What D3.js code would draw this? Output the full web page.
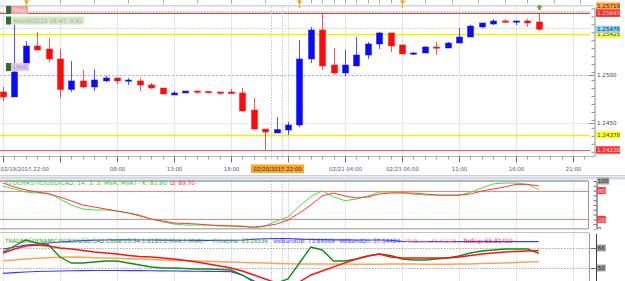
<!DOCTYPE html>
<html>
<head>
<meta charset="utf-8">
<script src="https://cdn.jsdelivr.net/npm/d3@7/dist/d3.min.js"></script>
<style>
html,body{margin:0;padding:0;background:#fff;overflow:hidden;}
svg{display:block;}
text{font-family:"DejaVu Sans",Verdana,sans-serif;}
</style>
</head>
<body>
<svg id="chart" width="625" height="281"></svg>
<script>
// ---------------- DATA ----------------
const opens  = [1.24823,1.24771,1.25125,1.25302,1.25271,1.25167,1.24849,1.24938,1.24875,1.24938,1.24969,1.24938,1.24938,1.24896,1.24865,1.24792,1.24813,1.24833,1.24828,1.24823,1.24823,1.24813,1.24635,1.24437,1.24396,1.24427,1.24479,1.25167,1.25469,1.25104,1.25021,1.25094,1.25208,1.25323,1.25438,1.25313,1.25219,1.25229,1.25292,1.25281,1.25333,1.25396,1.25500,1.25531,1.25563,1.25552,1.25563,1.25552];
const highs  = [1.24875,1.25531,1.25354,1.25448,1.25385,1.25271,1.25146,1.25052,1.25063,1.24990,1.24969,1.24969,1.24969,1.24917,1.24865,1.24833,1.24833,1.24833,1.24833,1.24823,1.24854,1.24865,1.24760,1.24437,1.24563,1.24510,1.25365,1.25500,1.25645,1.25281,1.25260,1.25396,1.25344,1.25448,1.25438,1.25313,1.25240,1.25302,1.25344,1.25344,1.25490,1.25521,1.25542,1.25583,1.25583,1.25563,1.25583,1.25645];
const lows   = [1.24729,1.24771,1.25125,1.25260,1.25135,1.24760,1.24823,1.24865,1.24833,1.24927,1.24906,1.24896,1.24833,1.24854,1.24802,1.24792,1.24813,1.24802,1.24813,1.24792,1.24802,1.24615,1.24427,1.24220,1.24396,1.24375,1.24458,1.25125,1.25052,1.25000,1.24990,1.25094,1.25167,1.25271,1.25240,1.25219,1.25208,1.25229,1.25208,1.25281,1.25333,1.25396,1.25490,1.25521,1.25542,1.25521,1.25500,1.25461];
const closes = [1.24771,1.25031,1.25302,1.25260,1.25167,1.24849,1.24938,1.24875,1.24948,1.24969,1.24938,1.24948,1.24896,1.24865,1.24802,1.24813,1.24833,1.24823,1.24818,1.24813,1.24807,1.24625,1.24437,1.24406,1.24432,1.24479,1.25167,1.25469,1.25094,1.25021,1.25104,1.25208,1.25323,1.25438,1.25302,1.25219,1.25229,1.25292,1.25281,1.25333,1.25396,1.25510,1.25542,1.25563,1.25552,1.25563,1.25542,1.25476];

const stochK = [89.6,83.3,77.1,75.0,75.0,62.5,50.0,41.7,39.6,39.6,37.5,33.3,29.2,20.8,14.6,10.4,8.3,8.3,8.3,6.3,6.3,6.3,2.1,6.3,16.7,25.0,47.9,67.3,79.8,66.7,59.0,62.5,68.8,77.0,77.1,76.4,72.3,70.8,70.8,69.5,70.0,76.4,85.4,94.0,95.8,95.8,93.0,81.80];
const stochD = [96.0,87.5,81.3,77.1,72.9,66.7,58.3,50.0,45.8,41.7,37.5,33.3,27.1,20.8,16.7,12.5,11.5,10.4,8.3,7.3,6.3,5.2,4.2,6.3,10.4,18.8,33.3,50.0,68.8,75.0,68.8,64.6,66.7,72.9,75.0,75.0,75.0,72.9,70.8,70.8,70.8,72.9,79.2,83.3,87.5,93.0,93.0,89.70];

const tdiPriceLine  = [64.4,69.8,75.2,72.5,70.7,59.9,54.5,54.5,55.4,56.3,56.3,54.5,52.7,50.9,50.0,50.0,49.5,49.1,49.1,48.6,48.2,43.7,37.4,35.6,36.5,40.1,54.5,68.9,66.2,56.3,56.3,58.1,60.8,62.6,61.2,58.1,57.2,57.2,58.1,59.0,60.8,63.5,65.3,66.2,67.1,67.1,67.1,63.26536];
const tdiTrdSig     = [63.5,67.1,69.8,70.7,69.8,68.0,67.1,65.8,64.4,63.5,62.6,61.2,60.3,59.9,59.0,58.1,56.8,55.4,53.6,51.8,50.0,47.3,43.7,40.1,36.5,35.6,37.4,43.7,47.3,51.0,54.6,58.1,60.8,62.6,59.9,59.0,59.0,59.0,59.0,59.0,59.9,61.2,62.6,63.5,64.4,64.9,65.3,65.81419];
const tdiMktBase    = [56.5,57.3,58.0,58.7,59.3,59.7,59.8,59.6,59.3,59.0,58.7,58.4,58.0,57.7,57.3,57.0,56.7,56.3,56.0,55.7,55.4,55.0,54.7,54.4,54.1,53.8,53.7,53.6,53.6,53.5,53.5,53.4,53.4,53.4,53.5,53.5,53.5,53.4,53.4,53.4,53.5,53.7,54.0,54.3,54.6,55.0,55.3,55.61925];
const tdiVolBandUp  = [67.1,68.9,70.7,71.6,72.5,73.4,74.1,74.6,75.0,75.2,75.3,75.3,75.2,75.2,75.1,75.0,75.0,74.9,74.9,75.0,75.0,75.2,75.8,76.3,76.5,76.5,76.0,75.7,75.5,75.3,75.3,75.2,75.2,75.2,75.0,74.0,73.7,73.7,73.7,73.7,73.7,73.7,73.7,73.7,73.7,73.7,73.7,73.69309];
const tdiVolBandDn  = [45.2,45.8,46.4,46.8,47.1,47.3,47.5,47.6,47.7,47.7,47.7,47.6,47.6,47.5,47.4,47.3,47.2,47.1,47.0,46.9,46.7,43.5,38.5,34.0,30.5,28.5,27.5,27.5,28.0,29.0,30.0,31.0,32.0,32.8,33.5,34.1,34.6,35.0,35.4,35.8,36.1,36.4,36.7,36.9,37.1,37.3,37.4,37.54484];

const majorTickIdx = [0,5,10,15,20,25,30,35,40,45,50];
const timeLabels   = ["02/19/2015 22:00","","08:00","13:00","18:00","","02/21 04:00","02/23 06:00","11:00","16:00","21:00"];
const cursorIdx = 24;
const cursorLabel = "02/20/2015 22:00";
const topTickIdx = [2,5,8,11,14,17,20,23,26,27,28,29,30,31,32,33,34,35,37,39.4,41.7,44,46,48.3,50.6];
const orderMarkerIdx = [2,26,35];
const tradeArrowIdx = [47];

const priceGrid = [1.2450,1.2500];
const priceLevels = [1.25670,1.25653,1.25645,1.25490,1.25425,1.25000,1.24378,1.24220];
const priceTagValues = [1.25719,1.25645,1.25425,1.25476,1.2500,1.2450,1.24378,1.24220];
const priceTagTexts  = ["1.25719","1.25645","1.25425","1.25476","1.2500","1.2450","1.24378","1.24220"];
const orderLabels = ["Stop","Short(02/23 18:47, 0.9)","Limit"];

const stochLevels = [80,20];
const stochTagValues = [100,80,20,0];
const tdiLevels = [68,50];

const stochTitle = "STOCHASTIC(USD/CAD, 14, 3, 3, MVA, MVA) - K: ";
const tdiTitle = "TRADERSDYNAMICINDEX(USD/CAD,Close,13,34,1.6185,2,MVA,7,MVA) - ";
const tdiNames = ["PriceLine: ","VolBandUp: ","VolBandDn: ","MktBase: ","TrdSig: "];

// ---------------- DRAW ----------------
const svg = d3.select("#chart");
svg.append("rect").attr("width",625).attr("height",281).attr("fill","#ffffff");
const defs = svg.append("defs");
[["cMain",0,7,590,149],["cSto",0,181.5,588,47],["cTdi",0,233,589,48]].forEach(([id,x0,y0,w,h])=>{
  defs.append("clipPath").attr("id",id).append("rect").attr("x",x0).attr("y",y0).attr("width",w).attr("height",h);
});

const n = closes.length;
const idx = d3.range(n);
const x = d3.scaleLinear().domain([0,50]).range([3,573]);
const px = i => Math.round(x(i));
const yP = d3.scaleLinear().domain([1.2415625,1.2570833]).range([156,7]);
const yS = d3.scaleLinear().domain([0,100]).range([229,181]);
const yT = d3.scaleLinear().domain([50,68]).range([268,248]);
const hl = v => Math.round(v)+0.5;

// top strip
svg.append("rect").attr("x",0).attr("y",5).attr("width",594).attr("height",1.6).attr("fill","#d3d9e2");
svg.append("g").selectAll("line").data(topTickIdx).join("line")
  .attr("x1",d=>px(d)+0.5).attr("x2",d=>px(d)+0.5).attr("y1",0).attr("y2",3.5)
  .attr("stroke","#a9a9a9");

// ---- main panel
const gM = svg.append("g").attr("clip-path","url(#cMain)");
gM.selectAll("line.vg").data(majorTickIdx).join("line").attr("class","vg")
  .attr("x1",d=>px(d)+0.5).attr("x2",d=>px(d)+0.5).attr("y1",7).attr("y2",156)
  .attr("stroke","#e4e4e4");
gM.selectAll("line.hg").data(priceGrid).join("line").attr("class","hg")
  .attr("x1",0).attr("x2",590).attr("y1",d=>hl(yP(d))).attr("y2",d=>hl(yP(d)))
  .attr("stroke","#ebebeb");

const levelStyle = [
  {c:"#f3b4b4",d:"1.5,1.5",w:1},{c:"#f3b4b4",d:"1.5,1.5",w:1},{c:"#ff3c3c",d:null,w:1.2},
  {c:"#bcdcaa",d:"1.5,1.5",w:1},{c:"#f2f200",d:null,w:1.4},{c:"#c7aadd",d:"2,2",w:1},
  {c:"#f2f200",d:null,w:1.4},{c:"#ff5a5a",d:null,w:1.2}];
gM.selectAll("line.lv").data(priceLevels).join("line").attr("class","lv")
  .attr("x1",0).attr("x2",590).attr("y1",d=>hl(yP(d))).attr("y2",d=>hl(yP(d)))
  .attr("stroke",(d,i)=>levelStyle[i].c).attr("stroke-width",(d,i)=>levelStyle[i].w)
  .attr("stroke-dasharray",(d,i)=>levelStyle[i].d);

// cursor dotted lines
const curX = [cursorIdx-0.5,cursorIdx+0.5];
[[7,160],[181,229],[233,281]].forEach(([a,b])=>{
  svg.append("g").selectAll("line").data(curX).join("line")
    .attr("x1",d=>px(d)+0.5).attr("x2",d=>px(d)+0.5).attr("y1",a).attr("y2",b)
    .attr("stroke","#c4c4c4").attr("stroke-dasharray","1.5,1.5");
});

// candles
const cd = idx.map(i=>({i,o:opens[i],h:highs[i],l:lows[i],c:closes[i]}));
const col = d => d.c>=d.o ? "#0a0aff" : "#ff0a0a";
const cg = gM.selectAll("g.cdl").data(cd).join("g").attr("class","cdl");
cg.append("line")
  .attr("x1",d=>px(d.i)+0.5).attr("x2",d=>px(d.i)+0.5)
  .attr("y1",d=>yP(d.h)).attr("y2",d=>yP(d.l))
  .attr("stroke",col).attr("stroke-opacity",0.7);
cg.append("rect")
  .attr("x",d=>px(d.i)-2.5).attr("width",6)
  .attr("y",d=>yP(Math.max(d.o,d.c)))
  .attr("height",d=>Math.max(1.3,yP(Math.min(d.o,d.c))-yP(Math.max(d.o,d.c))))
  .attr("fill",col).attr("stroke",col).attr("stroke-opacity",0.45);

// order labels
const lblStyle = [
  {y:6,w:17,bg:"#f3a2a2",tc:"#fde6e6"},
  {y:16.5,w:73,bg:"#d7e7cb",tc:"#9db592"},
  {y:63,w:18,bg:"#ddcbe9",tc:"#a98fc2"}];
const lg = svg.append("g").selectAll("g").data(orderLabels).join("g");
lg.append("rect").attr("x",6).attr("y",(d,i)=>lblStyle[i].y).attr("width",5).attr("height",8).attr("fill","#2f6f2f");
lg.append("rect").attr("x",11).attr("y",(d,i)=>lblStyle[i].y).attr("width",(d,i)=>lblStyle[i].w).attr("height",8).attr("fill",(d,i)=>lblStyle[i].bg);
lg.append("text").attr("x",13).attr("y",(d,i)=>lblStyle[i].y+6.2).attr("font-size",5.8)
  .attr("fill",(d,i)=>lblStyle[i].tc).text(d=>d);

// top markers
svg.append("g").selectAll("path").data(orderMarkerIdx).join("path")
  .attr("d",d=>{const c=px(d)+0.5;return `M${c-2.5},0.5 L${c+2.5},0.5 L${c},5 Z M${c-0.6},5 L${c+0.6},5 L${c+0.6},8 L${c-0.6},8 Z`;})
  .attr("fill","#f2a01e");
svg.append("g").selectAll("path").data(tradeArrowIdx).join("path")
  .attr("d",d=>{const c=px(d)+0.5;return `M${c},4.5 L${c+3.2},7.5 L${c+1.3},7.5 L${c+1.3},10 L${c-1.3},10 L${c-1.3},7.5 L${c-3.2},7.5 Z`;})
  .attr("fill","#5fa83a");

// right price axis
const pa = svg.append("g").attr("transform","translate(594.5,0)")
  .call(d3.axisLeft(yP).tickValues(d3.range(1.2420,1.2571,0.00083)).tickSize(3).tickSizeOuter(0).tickFormat(""));
pa.select(".domain").attr("stroke","#8c8c8c");
pa.selectAll(".tick line").attr("stroke","#8c8c8c");

const tagStyle = [
  {bg:"#ffa64d",tc:"#3a2000"},{bg:"#ff2a2a",tc:"#ffe2e2"},{bg:"#ffff33",tc:"#3a3a00"},{bg:"#8fd3f5",tc:"#10306e"},
  {bg:null,tc:"#3c3c64"},{bg:null,tc:"#3c3c64"},{bg:"#ffff33",tc:"#3a3a00"},{bg:"#ff2a2a",tc:"#ffe2e2"}];
const tg = svg.append("g").selectAll("g").data(priceTagValues).join("g");
tg.append("rect").attr("x",596).attr("y",d=>yP(d)-3.6).attr("width",24).attr("height",7.4)
  .attr("fill",(d,i)=>tagStyle[i].bg||"none");
tg.append("line").attr("x1",589).attr("x2",594).attr("y1",d=>hl(yP(d))).attr("y2",d=>hl(yP(d)))
  .attr("stroke",(d,i)=>tagStyle[i].bg?"none":"#8c8c8c");
tg.append("text").attr("x",597).attr("y",d=>yP(d)+2.1).attr("font-size",5.6)
  .attr("fill",(d,i)=>tagStyle[i].tc).text((d,i)=>priceTagTexts[i]);

// ---- time axis
const gMinor = svg.append("g").attr("transform","translate(0.5,156.5)")
  .call(d3.axisBottom(x).tickValues(d3.range(0,52)).tickSize(3).tickSizeOuter(0).tickFormat(""));
gMinor.select(".domain").attr("stroke","#b4b4b4").attr("d","M-0.5,0H594");
gMinor.selectAll(".tick line").attr("stroke","#a0a0a0");
gMinor.selectAll(".tick").attr("transform",d=>`translate(${px(d)},0)`);
const gMajor = svg.append("g").attr("transform","translate(0.5,156.5)")
  .call(d3.axisBottom(x).tickValues(majorTickIdx).tickSize(6).tickPadding(5).tickFormat((d,i)=>timeLabels[i]));
gMajor.select(".domain").remove();
gMajor.selectAll(".tick").attr("transform",d=>`translate(${px(d)},0)`);
gMajor.selectAll(".tick line").attr("stroke","#707070");
gMajor.selectAll(".tick text").attr("font-size",5.4).attr("fill","#55558a").attr("font-family","DejaVu Sans");
gMajor.selectAll(".tick text").filter(d=>d===0).attr("text-anchor","start").attr("x",-3);
const cl = svg.append("g");
cl.append("rect").attr("x",px(cursorIdx)-26).attr("y",164.5).attr("width",53).attr("height",8.5).attr("fill","#ffa51e");
cl.append("text").attr("x",px(cursorIdx)+0.5).attr("y",171).attr("text-anchor","middle").attr("font-size",5.4)
  .attr("fill","#2e2e66").text(cursorLabel);

// separator
svg.append("line").attr("x1",0).attr("x2",625).attr("y1",175.5).attr("y2",175.5).attr("stroke","#cfcfcf");
svg.append("rect").attr("x",0).attr("y",176.5).attr("width",625).attr("height",3).attr("fill","#d3dbe7");

// ---- stochastic panel
const gS = svg.append("g").attr("clip-path","url(#cSto)");
gS.selectAll("line.vg").data(majorTickIdx).join("line").attr("class","vg")
  .attr("x1",d=>px(d)+0.5).attr("x2",d=>px(d)+0.5).attr("y1",181).attr("y2",229).attr("stroke","#e4e4e4");
gS.selectAll("line.lv").data(stochLevels).join("line").attr("class","lv")
  .attr("x1",0).attr("x2",588).attr("y1",d=>hl(yS(d))).attr("y2",d=>hl(yS(d))).attr("stroke","#ff7e7e");
const lineS = arr => d3.line().x(i=>x(i)).y(i=>yS(arr[i]))(idx);
gS.append("path").attr("d",lineS(stochK)).attr("fill","none").attr("stroke","#45dd45").attr("stroke-width",1);
gS.append("path").attr("d",lineS(stochD)).attr("fill","none").attr("stroke","#ff3535").attr("stroke-width",1);
svg.append("line").attr("x1",0).attr("x2",588.5).attr("y1",181).attr("y2",181).attr("stroke","#6a6a6a");
svg.append("line").attr("x1",0).attr("x2",588.5).attr("y1",229).attr("y2",229).attr("stroke","#6a6a6a");
svg.append("line").attr("x1",588.5).attr("x2",588.5).attr("y1",181).attr("y2",229).attr("stroke","#9a9a9a");
const sa = svg.append("g").attr("transform","translate(596.5,0)")
  .call(d3.axisLeft(yS).tickValues(d3.range(0,101,10)).tickSize(3).tickSizeOuter(0).tickFormat(""));
sa.select(".domain").attr("stroke","#404040");
sa.selectAll(".tick line").attr("stroke","#707070");
const sTagStyle = [{bg:"#a6a6a6",tc:"#1a1a1a"},{bg:"#ff3434",tc:"#ffe6e6"},{bg:"#ff3434",tc:"#ffe6e6"},{bg:null,tc:"#1a1a1a"}];
const stg = svg.append("g").selectAll("g").data(stochTagValues).join("g");
stg.append("rect").attr("x",597).attr("y",d=>yS(d)-3.5).attr("width",d=>String(d).length*3.6+1.5).attr("height",7)
  .attr("fill",(d,i)=>sTagStyle[i].bg||"none");
stg.append("text").attr("x",597.8).attr("y",d=>yS(d)+2.1).attr("font-size",5.6)
  .attr("fill",(d,i)=>sTagStyle[i].tc).text(d=>d);
const stT = svg.append("text").attr("x",5).attr("y",185.4).attr("font-size",6);
stT.append("tspan").attr("fill","#36c836").attr("textLength",162).attr("lengthAdjust","spacingAndGlyphs")
  .text(stochTitle + stochK[n-1].toFixed(2));
stT.append("tspan").attr("x",170).attr("fill","#ff3030").attr("textLength",25).attr("lengthAdjust","spacingAndGlyphs")
  .text("D: " + stochD[n-1].toFixed(2));

// ---- TDI panel
svg.append("rect").attr("x",0).attr("y",229.5).attr("width",625).attr("height",3).attr("fill","#ffffff");
svg.append("line").attr("x1",0).attr("x2",589).attr("y1",232.5).attr("y2",232.5).attr("stroke","#c4c4c4");
const gT = svg.append("g").attr("clip-path","url(#cTdi)");
gT.selectAll("line.vg").data(majorTickIdx).join("line").attr("class","vg")
  .attr("x1",d=>px(d)+0.5).attr("x2",d=>px(d)+0.5).attr("y1",233).attr("y2",281).attr("stroke","#e4e4e4");
gT.selectAll("line.lv").data(tdiLevels).join("line").attr("class","lv")
  .attr("x1",0).attr("x2",589).attr("y1",d=>hl(yT(d))).attr("y2",d=>hl(yT(d)))
  .attr("stroke","#a8a8a8").attr("stroke-dasharray","1.5,1.5");
const lineT = arr => d3.line().x(i=>x(i)).y(i=>yT(arr[i]))(idx);
gT.append("path").attr("d",lineT(tdiMktBase)).attr("fill","none").attr("stroke","#ffa257").attr("stroke-width",1.5);
gT.append("path").attr("d",lineT(tdiVolBandUp)).attr("fill","none").attr("stroke","#3a3aff").attr("stroke-width",1.1);
gT.append("path").attr("d",lineT(tdiVolBandDn)).attr("fill","none").attr("stroke","#3a3aff").attr("stroke-width",1.1);
gT.append("path").attr("d",lineT(tdiPriceLine)).attr("fill","none").attr("stroke","#148c14").attr("stroke-width",1.4);
gT.append("path").attr("d",lineT(tdiTrdSig)).attr("fill","none").attr("stroke","#ff1010").attr("stroke-width",1.4);
svg.append("line").attr("x1",589.5).attr("x2",589.5).attr("y1",233).attr("y2",281).attr("stroke","#9a9a9a");
const ta = svg.append("g").attr("transform","translate(596.5,0)")
  .call(d3.axisLeft(yT).tickValues(tdiLevels).tickSize(6).tickSizeOuter(0).tickFormat(""));
ta.select(".domain").attr("d","M0,234V281").attr("stroke","#404040");
ta.selectAll(".tick line").attr("stroke","#707070");
const ttg = svg.append("g").selectAll("g").data(tdiLevels).join("g");
ttg.append("rect").attr("x",597).attr("y",d=>yT(d)-3.5).attr("width",8.8).attr("height",7).attr("fill","#a3a3a3");
ttg.append("text").attr("x",597.8).attr("y",d=>yT(d)+2.1).attr("font-size",5.6).attr("fill","#1a1a1a").text(d=>d);

const tdiLast = [tdiPriceLine,tdiVolBandUp,tdiVolBandDn,tdiMktBase,tdiTrdSig].map(a=>a[n-1].toFixed(5));
const segX = [213,273,339,405,463];
const segW = [55,62,61,52,50];
const segC = ["#2a9a2a","#3a3aff","#3a3aff","#ffa257","#ff1a1a"];
const tt = svg.append("g");
tt.append("text").attr("x",5).attr("y",242.8).attr("font-size",6).attr("fill","#2a9a2a")
  .attr("textLength",202).attr("lengthAdjust","spacingAndGlyphs").text(tdiTitle);
tt.selectAll("text.seg").data(tdiNames).join("text").attr("class","seg")
  .attr("x",(d,i)=>segX[i]).attr("y",242.8).attr("font-size",6).attr("fill",(d,i)=>segC[i])
  .attr("textLength",(d,i)=>segW[i]).attr("lengthAdjust","spacingAndGlyphs")
  .text((d,i)=>d+tdiLast[i]);
</script>
</body>
</html>
